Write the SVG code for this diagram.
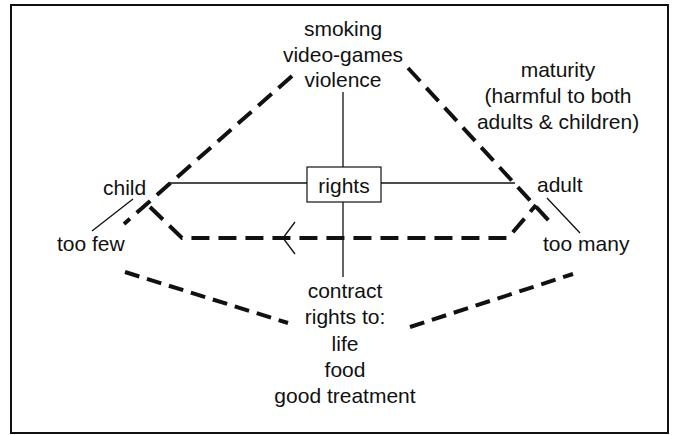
<svg xmlns="http://www.w3.org/2000/svg" width="675" height="435" viewBox="0 0 675 435">
<style>
text{font-family:"Liberation Sans",Arial,Helvetica,sans-serif;font-size:21px;fill:#111;}
.c{text-anchor:middle;}
.thin{stroke:#111;stroke-width:1.3;fill:none;}
.dash{stroke:#111;stroke-width:4;fill:none;stroke-dasharray:18 9;}
.dash2{stroke:#111;stroke-width:4;fill:none;stroke-dasharray:15 8;}
</style>
<rect x="0" y="0" width="675" height="435" fill="#fff"/>
<rect x="11" y="5" width="657" height="428" fill="none" stroke="#111" stroke-width="2"/>

<g id="connectors">
  <line class="thin" x1="343" y1="92" x2="343" y2="167"/>
  <line class="thin" x1="343" y1="202" x2="343" y2="277"/>
  <line class="thin" x1="170" y1="183" x2="307" y2="183"/>
  <line class="thin" x1="381" y1="183" x2="515" y2="183"/>
  <line class="dash" x1="292" y1="76" x2="124" y2="224"/>
  <line class="dash" x1="408" y1="68" x2="550" y2="222"/>
  <line class="thin" x1="92" y1="231" x2="133" y2="199"/>
  <line class="thin" x1="547" y1="198" x2="580" y2="233"/>
  <polyline class="dash" points="150,207 182,238 508,238 536,205"/>
  <polyline class="thin" points="295,222 283,238 295,254"/>
  <line class="dash2" x1="125" y1="272" x2="288" y2="323"/>
  <line class="dash2" x1="410" y1="327" x2="573" y2="274"/>
</g>

<g id="top">
  <text class="c" x="343" y="36">smoking</text>
  <text class="c" x="343" y="62">video-games</text>
  <text class="c" x="343" y="87">violence</text>
</g>
<g id="rights">
  <rect x="307" y="167" width="74" height="35" fill="#fff" stroke="#111" stroke-width="1.2"/>
  <text class="c" x="344" y="193">rights</text>
</g>
<g id="maturity">
  <text class="c" x="558" y="77">maturity</text>
  <text class="c" x="558" y="103">(harmful to both</text>
  <text class="c" x="558" y="129">adults &amp; children)</text>
</g>
<g id="child"><text x="103" y="195">child</text></g>
<g id="adult"><text x="537" y="192">adult</text></g>
<g id="toofew"><text x="57" y="251">too few</text></g>
<g id="toomany"><text x="543" y="251">too many</text></g>
<g id="contract">
  <text class="c" x="345" y="298">contract</text>
  <text class="c" x="345" y="324">rights to:</text>
  <text class="c" x="345" y="351">life</text>
  <text class="c" x="345" y="377">food</text>
  <text class="c" x="345" y="403">good treatment</text>
</g>
</svg>
